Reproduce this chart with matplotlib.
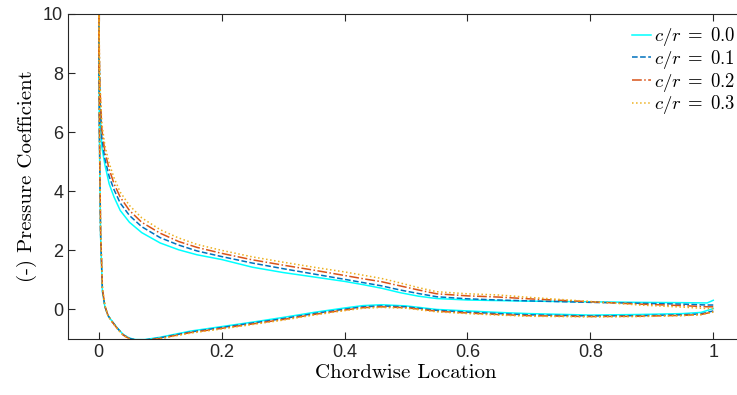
import numpy as np
import matplotlib
matplotlib.use('Agg')
import matplotlib.pyplot as plt

plt.rcParams['mathtext.fontset'] = 'cm'

# upper (suction) surface, chordwise location
x_up = [0.0, 0.001, 0.002, 0.005, 0.01, 0.017, 0.025, 0.035, 0.05, 0.07, 0.1, 0.13, 0.16,
        0.2, 0.25, 0.3, 0.35, 0.4, 0.43, 0.46, 0.49, 0.52, 0.55, 0.6, 0.65, 0.7, 0.8,
        0.88, 0.95, 0.99, 1.0]
up_00 = [11.0, 8.0, 6.8, 5.5, 4.9, 4.25, 3.8, 3.35, 2.95, 2.6, 2.25, 2.02, 1.85,
         1.69, 1.43, 1.25, 1.1, 0.95, 0.84, 0.72, 0.57, 0.45, 0.37, 0.32, 0.30, 0.28, 0.26,
         0.24, 0.23, 0.22, 0.31]
up_01 = [11.0, 8.3, 7.2, 5.8, 5.1, 4.5, 4.05, 3.6, 3.18, 2.8, 2.43, 2.18, 1.98,
         1.79, 1.57, 1.38, 1.2, 1.02, 0.91, 0.8, 0.66, 0.54, 0.43, 0.36, 0.32, 0.29, 0.24,
         0.21, 0.18, 0.15, 0.15]
up_02 = [11.0, 8.6, 7.5, 6.1, 5.35, 4.75, 4.25, 3.8, 3.35, 2.95, 2.58, 2.3, 2.1,
         1.9, 1.68, 1.5, 1.33, 1.15, 1.04, 0.94, 0.8, 0.66, 0.53, 0.46, 0.42, 0.36, 0.26,
         0.18, 0.13, 0.09, 0.09]
up_03 = [11.0, 8.8, 7.7, 6.3, 5.55, 4.95, 4.45, 3.97, 3.52, 3.1, 2.7, 2.42, 2.2,
         2.0, 1.78, 1.6, 1.43, 1.27, 1.16, 1.05, 0.9, 0.74, 0.6, 0.53, 0.49, 0.41, 0.27,
         0.15, 0.08, 0.03, 0.03]

# lower (pressure) surface
x_lo = [0.0, 0.001, 0.003, 0.006, 0.01, 0.015, 0.02, 0.03, 0.04, 0.05, 0.06, 0.075,
        0.1, 0.15, 0.2, 0.25, 0.3, 0.35, 0.4, 0.43, 0.46, 0.5, 0.55, 0.6, 0.65, 0.7,
        0.8, 0.88, 0.95, 0.98, 1.0]
lo_00 = [11.0, 6.0, 2.5, 0.6, 0.1, -0.2, -0.35, -0.62, -0.85, -0.97, -1.02, -1.02,
         -0.94, -0.73, -0.58, -0.43, -0.27, -0.1, 0.05, 0.13, 0.16, 0.12, 0.0, -0.05, -0.1, -0.14,
         -0.19, -0.17, -0.14, -0.1, 0.03]
lo_01 = [11.0, 6.2, 2.6, 0.65, 0.1, -0.2, -0.36, -0.63, -0.86, -0.98, -1.03, -1.03,
         -0.96, -0.76, -0.61, -0.46, -0.31, -0.14, 0.01, 0.09, 0.12, 0.09, -0.03, -0.09, -0.14, -0.18,
         -0.22, -0.21, -0.18, -0.15, -0.05]
lo_02 = [11.0, 6.4, 2.7, 0.7, 0.12, -0.2, -0.37, -0.64, -0.87, -0.99, -1.04, -1.04,
         -0.98, -0.78, -0.64, -0.49, -0.34, -0.17, -0.02, 0.06, 0.09, 0.06, -0.06, -0.12, -0.17, -0.21,
         -0.24, -0.23, -0.2, -0.17, -0.08]
lo_03 = [11.0, 6.6, 2.8, 0.75, 0.14, -0.2, -0.38, -0.65, -0.88, -1.0, -1.05, -1.05,
         -0.99, -0.8, -0.66, -0.51, -0.36, -0.19, -0.04, 0.04, 0.07, 0.04, -0.08, -0.14, -0.19, -0.23,
         -0.25, -0.24, -0.21, -0.18, -0.09]

labels = [r'$c/r\;=\;0.0$', r'$c/r\;=\;0.1$', r'$c/r\;=\;0.2$', r'$c/r\;=\;0.3$']
colors = ['#00ffff', '#0072bd', '#d95319', '#edb120']
styles = ['-', '--', '-.', ':']

fig = plt.figure(figsize=(7.37, 3.95), dpi=100)
ax = fig.add_axes([68/737, 56/395, 676/737, 325/395])

for up, lo, lab, c, ls in zip([up_00, up_01, up_02, up_03], [lo_00, lo_01, lo_02, lo_03],
                              labels, colors, styles):
    xx = np.concatenate([x_up[::-1], x_lo[1:]])
    yy = np.concatenate([up[::-1], lo[1:]])
    ax.plot(xx, yy, ls, color=c, lw=1.1, label=lab)

ax.set_xlim(-0.05, 1.05)
ax.set_ylim(-1, 10)
ax.set_xticks([0, 0.2, 0.4, 0.6, 0.8, 1])
ax.set_xticklabels(['0', '0.2', '0.4', '0.6', '0.8', '1'])
ax.set_yticks([0, 2, 4, 6, 8, 10])
ax.tick_params(direction='in', top=True, right=True, length=5, width=0.8,
               colors='#262626', labelsize=13)
for lbl in ax.get_xticklabels() + ax.get_yticklabels():
    lbl.set_family('Liberation Sans')
for s in ax.spines.values():
    s.set_color('#262626')
    s.set_linewidth(0.8)

ax.set_xlabel('Chordwise Location', family='cmr10', fontsize=15, labelpad=2)
ax.set_ylabel('(-) Pressure Coefficient', family='cmr10', fontsize=15, labelpad=4)

leg = ax.legend(loc='upper right', bbox_to_anchor=(0.988, 0.965), frameon=False, fontsize=13.5,
                handlelength=1.0, handletextpad=0.2, labelspacing=-0.02, borderaxespad=0,
                borderpad=0)

fig.savefig('out.png', dpi=100)
